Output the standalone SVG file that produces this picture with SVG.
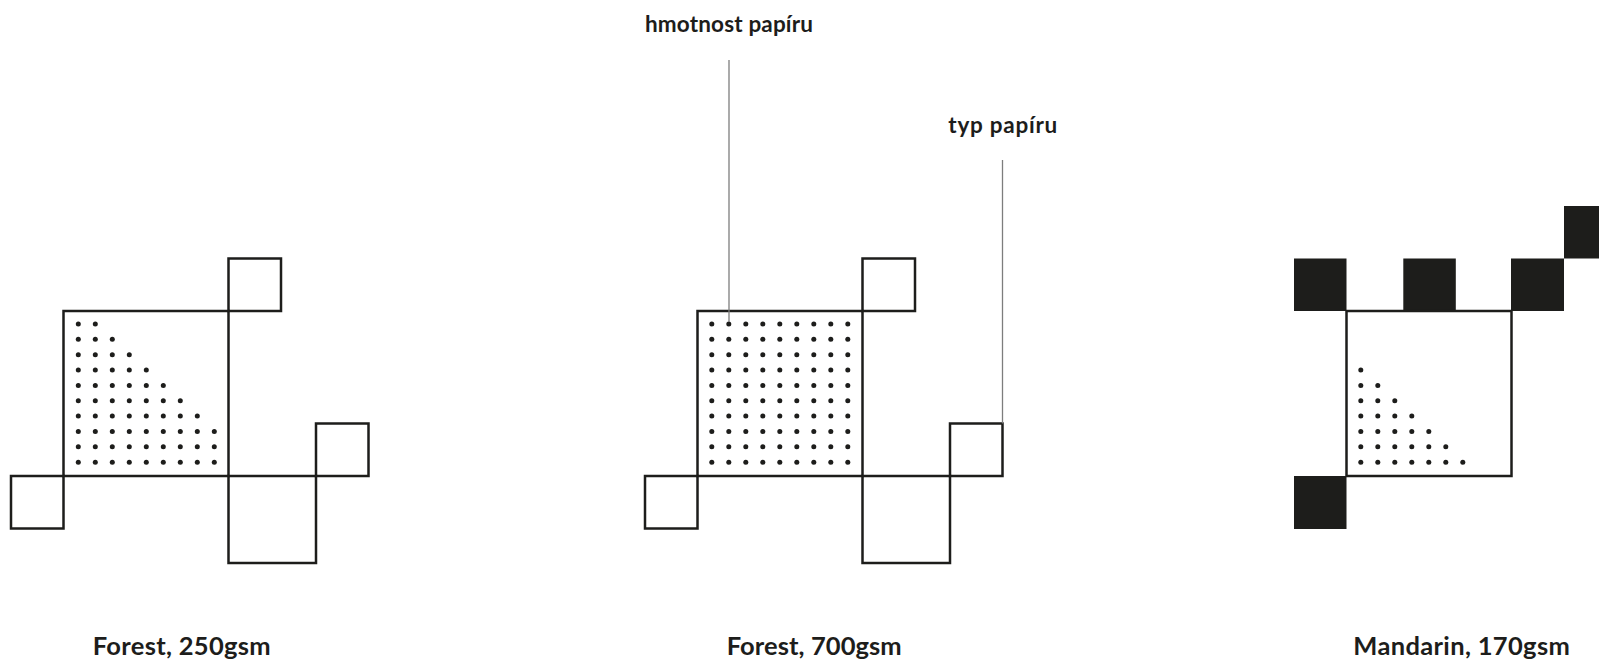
<svg xmlns="http://www.w3.org/2000/svg" xmlns:xlink="http://www.w3.org/1999/xlink" width="1599" height="662" viewBox="0 0 1599 662">
<style>
.box{fill:none;stroke:#1d1d1b;stroke-width:2.5}
.solid{fill:#1d1d1b;stroke:none}
.dot{fill:#1d1d1b}
.lead{stroke:#7d7d7d;stroke-width:1.3;fill:none}
.t{font-family:Lato,"Noto Sans",sans-serif;font-weight:700;fill:#1d1d1b}
.top{font-size:22.5px}
.cap{font-size:25.5px}
</style>
<defs>
<circle id="d" class="dot" r="2.5"/>
<g id="r1"><use xlink:href="#d"/></g>
<g id="r2"><use xlink:href="#r1"/><use xlink:href="#d" x="17"/></g>
<g id="r3"><use xlink:href="#r2"/><use xlink:href="#d" x="34"/></g>
<g id="r4"><use xlink:href="#r3"/><use xlink:href="#d" x="51"/></g>
<g id="r5"><use xlink:href="#r4"/><use xlink:href="#d" x="68"/></g>
<g id="r6"><use xlink:href="#r5"/><use xlink:href="#d" x="85"/></g>
<g id="r7"><use xlink:href="#r6"/><use xlink:href="#d" x="102"/></g>
<g id="r8"><use xlink:href="#r7"/><use xlink:href="#d" x="119"/></g>
<g id="r9"><use xlink:href="#r8"/><use xlink:href="#d" x="136"/></g>
</defs>
<rect width="1599" height="662" fill="#ffffff"/>

<g id="forest250">
<rect class="box" x="63.5" y="311" width="165" height="165"/>
<rect class="box" x="228.5" y="258.5" width="52.5" height="52.5"/>
<rect class="box" x="11" y="476" width="52.5" height="52.5"/>
<rect class="box" x="316" y="423.5" width="52.5" height="52.5"/>
<rect class="box" x="228.5" y="476" width="87.5" height="87"/>
<use xlink:href="#r2" x="78.3" y="324"/>
<use xlink:href="#r3" x="78.3" y="339.35"/>
<use xlink:href="#r4" x="78.3" y="354.7"/>
<use xlink:href="#r5" x="78.3" y="370.05"/>
<use xlink:href="#r6" x="78.3" y="385.4"/>
<use xlink:href="#r7" x="78.3" y="400.75"/>
<use xlink:href="#r8" x="78.3" y="416.1"/>
<use xlink:href="#r9" x="78.3" y="431.45"/>
<use xlink:href="#r9" x="78.3" y="446.8"/>
<use xlink:href="#r9" x="78.3" y="462.15"/>
<text class="t cap" x="92.7" y="654.5" textLength="178" lengthAdjust="spacing">Forest, 250gsm</text>
</g>

<g id="forest700">
<g transform="translate(634,0)">
<rect class="box" x="63.5" y="311" width="165" height="165"/>
<rect class="box" x="228.5" y="258.5" width="52.5" height="52.5"/>
<rect class="box" x="11" y="476" width="52.5" height="52.5"/>
<rect class="box" x="316" y="423.5" width="52.5" height="52.5"/>
<rect class="box" x="228.5" y="476" width="87.5" height="87"/>
<use xlink:href="#r9" x="77.8" y="324"/>
<use xlink:href="#r9" x="77.8" y="339.35"/>
<use xlink:href="#r9" x="77.8" y="354.7"/>
<use xlink:href="#r9" x="77.8" y="370.05"/>
<use xlink:href="#r9" x="77.8" y="385.4"/>
<use xlink:href="#r9" x="77.8" y="400.75"/>
<use xlink:href="#r9" x="77.8" y="416.1"/>
<use xlink:href="#r9" x="77.8" y="431.45"/>
<use xlink:href="#r9" x="77.8" y="446.8"/>
<use xlink:href="#r9" x="77.8" y="462.15"/>
</g>
<text class="t cap" x="726.7" y="654.5" textLength="175" lengthAdjust="spacing">Forest, 700gsm</text>
</g>

<g id="mandarin170">
<g transform="translate(1283,0)">
<rect class="solid" x="11" y="258.5" width="52.5" height="52.5"/>
<rect class="solid" x="120.3" y="258.5" width="52.5" height="52.5"/>
<rect class="solid" x="228" y="258.5" width="53" height="52.5"/>
<rect class="solid" x="281" y="206" width="53" height="52.5"/>
<rect class="solid" x="11" y="476" width="52.5" height="53"/>
<rect class="box" x="63.5" y="311" width="165" height="165"/>
<use xlink:href="#r1" x="77.8" y="370.05"/>
<use xlink:href="#r2" x="77.8" y="385.4"/>
<use xlink:href="#r3" x="77.8" y="400.75"/>
<use xlink:href="#r4" x="77.8" y="416.1"/>
<use xlink:href="#r5" x="77.8" y="431.45"/>
<use xlink:href="#r6" x="77.8" y="446.8"/>
<use xlink:href="#r7" x="77.8" y="462.15"/>
</g>
<text class="t cap" x="1353.3" y="654.5" textLength="216.5" lengthAdjust="spacing">Mandarin, 170gsm</text>
</g>

<g id="label-hmotnost">
<text class="t top" x="645" y="31.7" textLength="168" lengthAdjust="spacing">hmotnost papíru</text>
</g>
<g id="label-typ">
<text class="t top" x="948.3" y="133.3" textLength="109" lengthAdjust="spacing">typ papíru</text>
</g>

<g id="connectors">
<line class="lead" x1="729" y1="60" x2="729" y2="322"/>
<line class="lead" x1="1002.5" y1="160" x2="1002.5" y2="423.5"/>
</g>
</svg>
